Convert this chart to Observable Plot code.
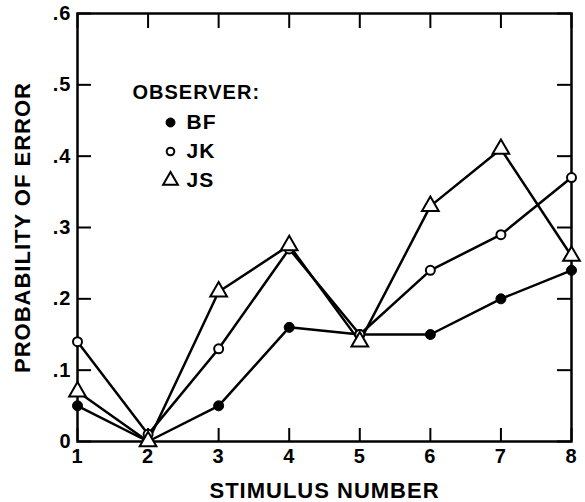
<!DOCTYPE html>
<html>
<head>
<meta charset="utf-8">
<script src="https://cdn.jsdelivr.net/npm/d3@7"></script>
<script src="https://cdn.jsdelivr.net/npm/@observablehq/plot@0.6"></script>
<style>
  html, body { margin: 0; padding: 0; background: #fff; }
  #chart svg text { letter-spacing: 1px; }
  #chart svg g[aria-label$="tick label"],
  #chart svg g[aria-label$="tick label"] text {
    font-size: 20px !important;
    font-weight: bold;
  }
</style>
</head>
<body>
<div id="chart"></div>
<script>
// Probability of error per stimulus, one series per observer
const stimulus = [1, 2, 3, 4, 5, 6, 7, 8];
const observers = ["BF", "JK", "JS"];
const bfErrors = [0.05, 0.00, 0.05, 0.16, 0.15, 0.15, 0.20, 0.24];
const jkErrors = [0.14, 0.01, 0.13, 0.27, 0.15, 0.24, 0.29, 0.37];
const jsErrors = [0.07, 0.00, 0.21, 0.275, 0.14, 0.33, 0.41, 0.26];

const xTicks = [1, 2, 3, 4, 5, 6, 7, 8];
const yTicks = [0, 0.1, 0.2, 0.3, 0.4, 0.5, 0.6];
const yTickLabels = ["0", ".1", ".2", ".3", ".4", ".5", ".6"];

const xTitle = "STIMULUS NUMBER";
const yTitle = "PROBABILITY OF ERROR";
const legendTitle = "OBSERVER:";

// Long table built from the named arrays
const seriesValues = [bfErrors, jkErrors, jsErrors];
const rows = observers.flatMap((name, k) =>
  seriesValues[k].map((p, i) => ({observer: name, stimulus: stimulus[i], p}))
);
const only = name => rows.filter(d => d.observer === name);

const W = 585, H = 502;
const mL = 77, mR = 14, mT = 13, mB = 61;
const innerW = W - mL - mR, innerH = H - mT - mB;
const font = "'Liberation Sans', Arial, sans-serif";

// Marker styles per observer
const markerStyle = {
  BF: {symbol: "circle", r: 5, fill: "black", stroke: "black", strokeWidth: 1},
  JK: {symbol: "circle", r: 4.5, fill: "white", stroke: "black", strokeWidth: 2},
  JS: {symbol: "triangle", r: 6.2, fill: "white", stroke: "black", strokeWidth: 2}
};
const legendMarker = {
  BF: {symbol: "circle", r: 4.5, fill: "black", stroke: "black", strokeWidth: 1},
  JK: {symbol: "circle", r: 3.8, fill: "white", stroke: "black", strokeWidth: 2},
  JS: {symbol: "triangle", r: 5.5, fill: "white", stroke: "black", strokeWidth: 2}
};

const legendMarks = observers.flatMap((name, i) => [
  Plot.dot([name], {frameAnchor: "top-left", dx: 93, dy: 109 + i * 29, ...legendMarker[name]}),
  Plot.text([name], {frameAnchor: "top-left", dx: 109, dy: 109 + i * 29, text: d => d,
    textAnchor: "start", lineAnchor: "middle", fontSize: 21, fontWeight: "bold", fill: "black"})
]);

const chart = Plot.plot({
  width: W,
  height: H,
  marginLeft: mL,
  marginRight: mR,
  marginTop: mT,
  marginBottom: mB,
  style: {fontFamily: font, color: "black", background: "white"},
  x: {domain: [1, 8]},
  y: {domain: [0, 0.6]},
  marks: [
    // inward-facing ticks on all four sides
    Plot.tickX(xTicks, {x: d => d, insetTop: innerH - 13, stroke: "black", strokeWidth: 2}),
    Plot.tickX(xTicks, {x: d => d, insetBottom: innerH - 15, stroke: "black", strokeWidth: 2}),
    Plot.tickY(yTicks, {y: d => d, insetRight: innerW - 14, stroke: "black", strokeWidth: 2}),
    Plot.tickY(yTicks, {y: d => d, insetLeft: innerW - 14, stroke: "black", strokeWidth: 2}),
    Plot.frame({stroke: "black", strokeWidth: 2.5}),
    Plot.axisX(xTicks, {tickSize: 0, tickPadding: 7, label: null, fontSize: 20, fontWeight: "bold"}),
    Plot.axisY(yTicks, {tickSize: 0, tickPadding: 6, label: null, fontSize: 20, fontWeight: "bold",
      tickFormat: d => yTickLabels[yTicks.indexOf(d)]}),
    Plot.text([xTitle], {frameAnchor: "bottom", dy: 49, text: d => d, textAnchor: "middle",
      lineAnchor: "middle", fontSize: 22, fontWeight: "bold", fill: "black"}),
    Plot.text([yTitle], {frameAnchor: "left", dx: -55, rotate: -90, text: d => d, textAnchor: "middle",
      lineAnchor: "middle", fontSize: 22, fontWeight: "bold", fill: "black"}),
    // series lines
    Plot.line(rows, {x: "stimulus", y: "p", z: "observer", stroke: "black", strokeWidth: 2.5}),
    // markers
    ...observers.map(name => Plot.dot(only(name), {x: "stimulus", y: "p", ...markerStyle[name]})),
    // legend
    Plot.text([legendTitle], {frameAnchor: "top-left", dx: 55, dy: 79, text: d => d,
      textAnchor: "start", lineAnchor: "middle", fontSize: 20, fontWeight: "bold", fill: "black"}),
    ...legendMarks
  ]
});

document.getElementById("chart").appendChild(chart);
</script>
</body>
</html>
